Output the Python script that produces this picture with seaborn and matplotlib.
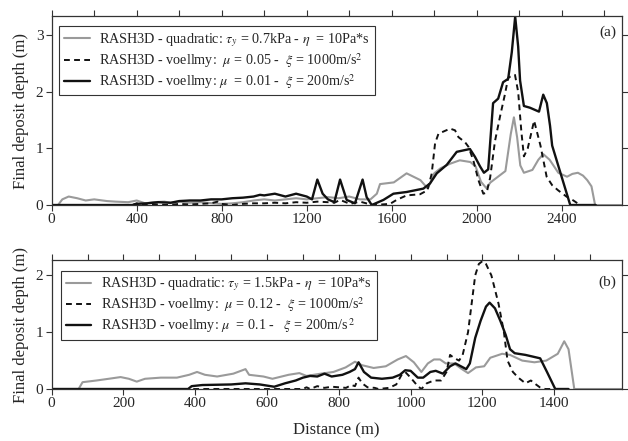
import matplotlib
matplotlib.use("Agg")
import matplotlib.pyplot as plt
import seaborn as sns
from matplotlib.ticker import MultipleLocator

# ---- panel (a) ----
qa_x = [0, 30, 50, 80, 120, 160, 200, 260, 300, 360, 400, 440, 480, 530, 560, 600, 650, 700, 760, 800,
        850, 900, 950, 1000, 1050, 1100, 1150, 1200, 1250, 1300, 1350, 1400, 1450, 1500, 1530, 1545, 1610, 1670, 1735, 1770,
        1800, 1830, 1875, 1920, 1970, 1995, 2020, 2045, 2065, 2100, 2135, 2160, 2175, 2190, 2205, 2222, 2262, 2290, 2313, 2343,
        2384, 2425, 2450, 2476, 2500, 2520, 2540, 2557, 2680]
qa_y = [0, 0, 0.1, 0.15, 0.12, 0.08, 0.1, 0.07, 0.06, 0.05, 0.08, 0.03, 0.05, 0.06, 0.04, 0.06, 0.04, 0.05, 0.03, 0.02,
        0.03, 0.05, 0.08, 0.1, 0.08, 0.1, 0.12, 0.1, 0.12, 0.14, 0.12, 0.15, 0.1, 0.1, 0.2, 0.37, 0.4, 0.56, 0.44, 0.29,
        0.56, 0.65, 0.73, 0.79, 0.76, 0.68, 0.41, 0.3, 0.4, 0.5, 0.6, 1.25, 1.55, 1.2, 0.7, 0.57, 0.62, 0.8, 0.9, 0.8,
        0.57, 0.5, 0.55, 0.57, 0.52, 0.44, 0.33, 0.0, 0.0]

da_x = [0, 380, 400, 420, 450, 550, 600, 650, 700, 750, 780, 800, 850, 900, 950, 1000, 1050, 1100, 1150, 1200,
        1250, 1300, 1330, 1357, 1404, 1451, 1480, 1514, 1592, 1623, 1670, 1733, 1768, 1788, 1804, 1820, 1875, 1898, 1914, 1945,
        1961, 1984, 2008, 2031, 2047, 2063, 2086, 2110, 2133, 2148, 2164, 2180, 2195, 2210, 2222, 2240, 2270, 2300, 2329, 2355,
        2383, 2422, 2455, 2486, 2560]
da_y = [0, 0, 0.03, 0, 0.02, 0, 0.02, 0.01, 0.02, 0.03, 0.06, 0.02, 0, 0.02, 0.03, 0.03, 0.04, 0.03, 0.05, 0.04,
        0.06, 0.05, 0.04, 0.09, 0.02, 0.06, 0.03, 0, 0.02, 0.09, 0.17, 0.19, 0.26, 0.55, 1.09, 1.26, 1.35, 1.32, 1.2, 1.11,
        1.03, 0.79, 0.44, 0.2, 0.22, 0.48, 1.13, 1.57, 1.96, 2.25, 2.28, 2.3, 2.0, 1.3, 0.86, 1.0, 1.49, 1.05, 0.5, 0.35,
        0.26, 0.15, 0.08, 0, 0]

ba_x = [0, 380, 400, 450, 500, 560, 600, 650, 700, 750, 800, 850, 900, 950, 980, 1000, 1050, 1100, 1150, 1200,
        1225, 1250, 1275, 1300, 1330, 1357, 1388, 1427, 1463, 1482, 1506, 1561, 1608, 1670, 1749, 1780, 1812, 1859, 1906, 1968,
        1992, 2016, 2034, 2054, 2077, 2101, 2124, 2148, 2165, 2181, 2195, 2204, 2222, 2250, 2293, 2313, 2330, 2345, 2355, 2440,
        2560]
ba_y = [0, 0, 0.02, 0.03, 0.05, 0.04, 0.07, 0.08, 0.08, 0.1, 0.1, 0.12, 0.13, 0.15, 0.18, 0.17, 0.2, 0.15, 0.2, 0.15,
        0.1, 0.45, 0.2, 0.1, 0.05, 0.45, 0.09, 0.03, 0.45, 0.14, 0, 0.09, 0.2, 0.23, 0.29, 0.38, 0.56, 0.71, 0.94, 0.99,
        0.85, 0.68, 0.57, 0.63, 1.8, 1.88, 2.17, 2.23, 2.7, 3.33, 2.8, 2.2, 1.75, 1.72, 1.65, 1.95, 1.8, 1.4, 1.05, 0,
        0]

# ---- panel (b) ----
qb_x = [0, 75, 86, 125, 159, 192, 215, 237, 260, 304, 349, 383, 405, 427, 461, 506, 540, 550, 590, 615,
        660, 690, 710, 750, 785, 819, 845, 864, 897, 931, 964, 987, 1009, 1030, 1048, 1065, 1082, 1098, 1121, 1143,
        1160, 1182, 1205, 1222, 1255, 1277, 1311, 1345, 1378, 1410, 1428, 1440, 1456, 1590]
qb_y = [0, 0, 0.12, 0.15, 0.18, 0.21, 0.18, 0.13, 0.18, 0.2, 0.2, 0.25, 0.3, 0.25, 0.22, 0.27, 0.35, 0.25, 0.22, 0.18,
        0.25, 0.28, 0.23, 0.27, 0.3, 0.38, 0.48, 0.42, 0.37, 0.4, 0.52, 0.58, 0.47, 0.3, 0.45, 0.52, 0.52, 0.45, 0.45, 0.35,
        0.28, 0.38, 0.4, 0.55, 0.62, 0.6, 0.5, 0.47, 0.5, 0.62, 0.84, 0.7, 0, 0]

db_x = [0, 700, 710, 720, 740, 760, 780, 800, 820, 835, 845, 855, 865, 880, 900, 910, 940, 960, 975, 985,
        1000, 1020, 1030, 1045, 1065, 1085, 1100, 1110, 1120, 1135, 1145, 1160, 1170, 1180, 1190, 1200, 1210, 1225, 1245, 1260,
        1270, 1285, 1300, 1320, 1335, 1345, 1360, 1375, 1440]
db_y = [0, 0, 0.03, 0, 0.05, 0.02, 0.04, 0.03, 0.02, 0.07, 0.05, 0.2, 0.1, 0.03, 0.02, 0, 0.02, 0.08, 0.25, 0.3,
        0.2, 0.05, 0, 0.1, 0.15, 0.15, 0.3, 0.6, 0.55, 0.5, 0.6, 1.0, 1.5, 2.0, 2.2, 2.25, 2.2, 2.0, 1.5, 1.0,
        0.5, 0.3, 0.2, 0.1, 0.15, 0.1, 0.03, 0, 0]

bb_x = [0, 380, 390, 420, 500, 540, 580, 600, 620, 650, 680, 700, 720, 740, 760, 780, 810, 830, 845, 855,
        870, 890, 920, 950, 970, 985, 1000, 1020, 1035, 1055, 1070, 1090, 1110, 1125, 1140, 1155, 1165, 1180, 1195, 1210,
        1220, 1235, 1250, 1265, 1277, 1290, 1320, 1361, 1380, 1403, 1440]
bb_y = [0, 0, 0.05, 0.07, 0.08, 0.1, 0.08, 0.06, 0.04, 0.1, 0.15, 0.2, 0.23, 0.22, 0.27, 0.22, 0.25, 0.3, 0.35, 0.47,
        0.3, 0.2, 0.18, 0.2, 0.25, 0.33, 0.32, 0.2, 0.2, 0.3, 0.32, 0.27, 0.4, 0.45, 0.4, 0.35, 0.45, 0.9, 1.2, 1.45,
        1.52, 1.42, 1.2, 0.95, 0.7, 0.63, 0.6, 0.54, 0.3, 0, 0]

labels_a = [r"RASH3D - quadratic: $\tau_y$ = 0.7kPa - $\eta$  = 10Pa*s",
            r"RASH3D - voellmy:  $\mu$ = 0.05 -  $\xi$ = 1000m/s$^2$",
            r"RASH3D - voellmy: $\mu$  = 0.01 -  $\xi$ = 200m/s$^2$"]
labels_b = [r"RASH3D - quadratic: $\tau_y$ = 1.5kPa - $\eta$  = 10Pa*s",
            r"RASH3D - voellmy:  $\mu$ = 0.12 -  $\xi$ = 1000m/s$^2$",
            r"RASH3D - voellmy: $\mu$  = 0.1 -   $\xi$ = 200m/s$^{\,2}$"]

sns.set_style("ticks")
plt.rcParams["font.family"] = ["Liberation Serif", "DejaVu Serif"]
plt.rcParams["mathtext.fontset"] = "stix"

fig = plt.figure(figsize=(6.28, 4.41), dpi=100)
ax1 = fig.add_axes([0.0823, 0.5351, 0.9076, 0.4286])
ax2 = fig.add_axes([0.0823, 0.1179, 0.9076, 0.2925])

GRAY = "#9a9a9a"
DARK = "#111111"

def draw(ax, q, d, b, labels):
    sns.lineplot(x=q[0], y=q[1], ax=ax, color=GRAY, lw=1.5, label=labels[0], estimator=None, sort=False)
    sns.lineplot(x=d[0], y=d[1], ax=ax, color=DARK, lw=1.4, linestyle=(0, (3, 2.2)), label=labels[1],
                 estimator=None, sort=False)
    sns.lineplot(x=b[0], y=b[1], ax=ax, color=DARK, lw=1.7, label=labels[2], estimator=None, sort=False)

draw(ax1, (qa_x, qa_y), (da_x, da_y), (ba_x, ba_y), labels_a)
draw(ax2, (qb_x, qb_y), (db_x, db_y), (bb_x, bb_y), labels_b)

ax1.set_xlim(0, 2682)
ax1.set_ylim(0, 3.34)
ax1.xaxis.set_major_locator(MultipleLocator(400))
ax1.xaxis.set_minor_locator(MultipleLocator(200))
ax1.set_yticks([0, 1, 2, 3])

ax2.set_xlim(0, 1588)
ax2.set_ylim(0, 2.27)
ax2.xaxis.set_major_locator(MultipleLocator(200))
ax2.xaxis.set_minor_locator(MultipleLocator(100))
ax2.set_yticks([0, 1, 2])

for ax, leg_xy, tag, tag_y in [(ax1, (0.013, 0.947), "(a)", 0.915), (ax2, (0.016, 0.917), "(b)", 0.83)]:
    for s in ax.spines.values():
        s.set_visible(True)
        s.set_color("#333333")
        s.set_linewidth(0.9)
    ax.tick_params(which="major", direction="out", length=4, width=0.8, color="#333333",
                   top=True, right=True, labeltop=False, labelright=False, labelsize=11, pad=2)
    ax.tick_params(which="minor", direction="out", length=4, width=0.8, color="#333333",
                   top=True, bottom=False, left=False, right=False)
    ax.set_ylabel("Final deposit depth (m)", fontsize=12)
    ax.yaxis.set_label_coords(-0.039, 0.5)
    ax.text(0.99, tag_y, tag, transform=ax.transAxes, ha="right", va="center", fontsize=11)
    leg = ax.legend(loc="upper left", bbox_to_anchor=leg_xy, borderaxespad=0, frameon=True, fancybox=False,
                    edgecolor="#333333", framealpha=1, fontsize=10.2, handlelength=1.8, handletextpad=0.7,
                    labelspacing=0.15, borderpad=0.35)
    leg.get_frame().set_linewidth(0.8)

ax1.set_xlabel("")
ax2.set_xlabel("Distance (m)", fontsize=12, labelpad=9)

fig.savefig("out.png", dpi=100)
